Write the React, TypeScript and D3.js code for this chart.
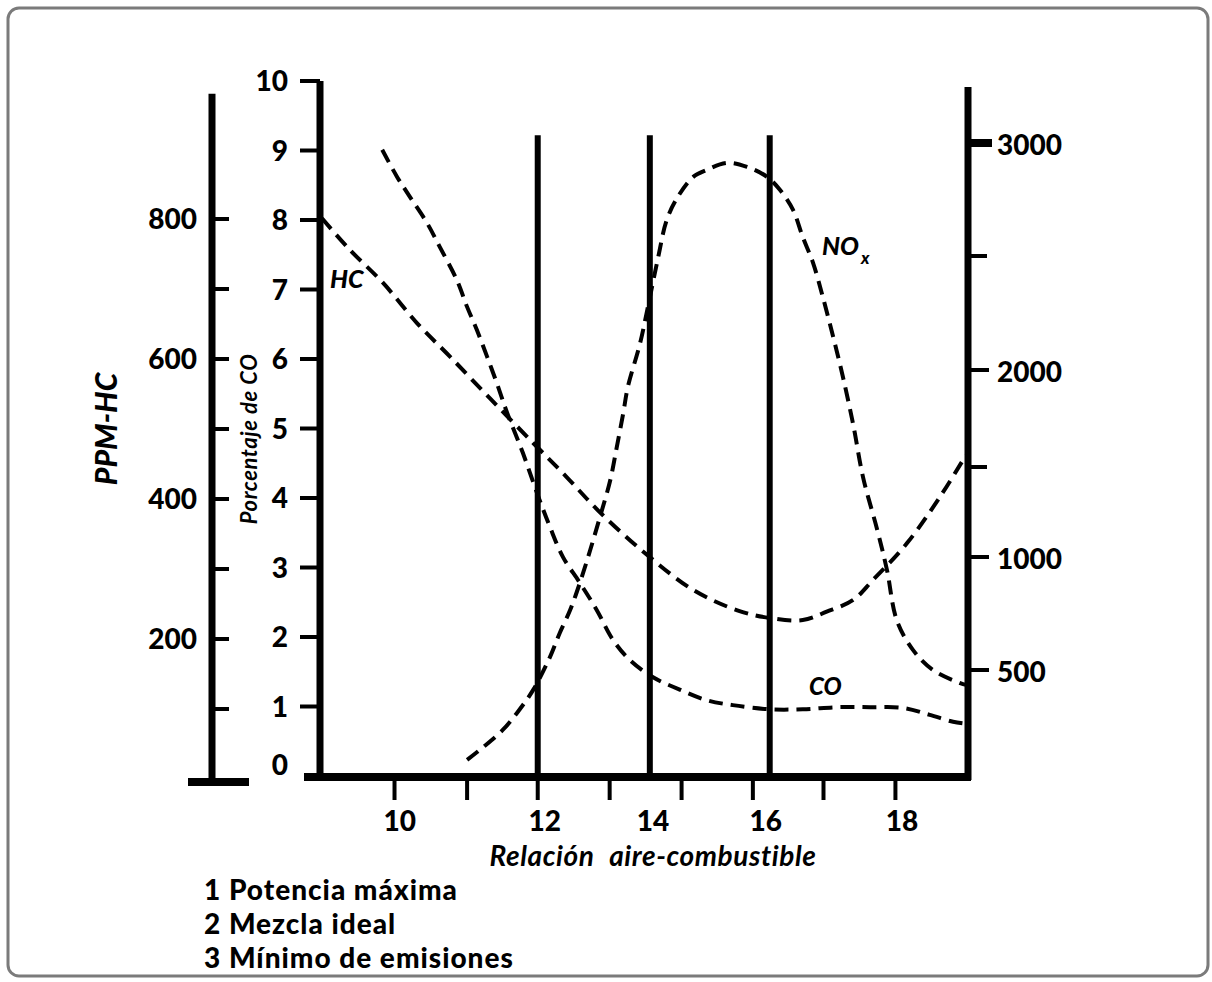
import React from "react";
import * as d3 from "d3";

// ---- data ----
const CO_TICKS = [0, 1, 2, 3, 4, 5, 6, 7, 8, 9, 10];
const HC_MAJOR = [200, 400, 600, 800];
const HC_MINOR = [100, 300, 500, 700];
const NOX_MAJOR = [500, 1000, 2000, 3000];
const NOX_MINOR = [1500, 2500];
const AFR_TICKS = [10.15, 11.27, 12.36, 13.47, 14.58, 15.68, 16.77, 17.88];
const AFR_LABELS = ["10", "12", "14", "16", "18"];
const AFR_LABEL_POS = [10.23, 12.47, 14.14, 15.88, 17.98];
const MARKERS = [12.36, 14.09, 15.94];
const MARKER_TOP = 9.22;
const LEGEND = ["1 Potencia máxima", "2 Mezcla ideal", "3 Mínimo de emisiones"];

// HC (ppm) vs air-fuel ratio
const HC_AFR = [9.03, 9.46, 9.97, 10.5, 11.01, 11.62, 12.29, 12.81, 13.32, 14.05, 14.76, 15.44, 15.94, 16.45, 16.82, 17.23, 17.53, 18.06, 18.61, 18.97];
const HC_PPM = [801, 756, 709, 651, 603, 544, 480, 431, 381, 320, 270, 241, 230, 227, 239, 256, 284, 337, 409, 463];

// CO (%) vs air-fuel ratio
const CO_AFR = [9.96, 10.19, 10.39, 10.65, 10.85, 11.11, 11.27, 11.42, 11.58, 11.73, 11.89, 12.13, 12.35, 12.55, 12.75, 13.01, 13.27, 13.52, 13.78, 14.14, 14.56, 14.97, 15.37, 15.94, 16.45, 16.98, 17.49, 18.0, 18.41, 18.77, 18.98];
const CO_PCT = [9.01, 8.62, 8.33, 7.96, 7.61, 7.14, 6.75, 6.42, 6.03, 5.65, 5.22, 4.65, 4.07, 3.58, 3.15, 2.78, 2.39, 1.96, 1.67, 1.42, 1.24, 1.09, 1.02, 0.96, 0.96, 0.99, 0.99, 0.98, 0.88, 0.78, 0.75];

// NOx (ppm) vs air-fuel ratio
const NOX_AFR = [11.27, 11.52, 11.82, 12.04, 12.29, 12.55, 12.7, 12.86, 13.01, 13.17, 13.32, 13.48, 13.58, 13.68, 13.75, 13.94, 14.05, 14.22, 14.35, 14.52, 14.76, 14.97, 15.28, 15.59, 15.9, 16.1, 16.3, 16.45, 16.61, 16.76, 16.92, 17.07, 17.23, 17.38, 17.6, 17.75, 17.9, 18.15, 18.46, 18.88, 18.97];
const NOX_PPM = [102, 159, 235, 310, 412, 558, 664, 765, 885, 1039, 1222, 1428, 1603, 1778, 1912, 2118, 2263, 2496, 2659, 2761, 2850, 2881, 2912, 2894, 2850, 2792, 2704, 2584, 2469, 2320, 2145, 1964, 1716, 1444, 1150, 942, 721, 589, 500, 442, 434];

const FONT = "Lato, 'Open Sans', 'DejaVu Sans', sans-serif";
const HEAVY = 900;

export default function App() {
  const W = 1212, H = 982;
  const x = d3.scaleLinear().domain([9, 19]).range([320, 968]);
  const yCO = d3.scaleLinear().domain([0, 10]).range([776, 81]);
  const yHC = d3.scaleLinear().domain([0, 800]).range([779, 219]);
  const yNOx = d3.scaleLinear().domain([500, 1000, 1500, 2000, 2500, 3000]).range([670, 557, 467, 370, 256, 143]);

  const curve = d3.curveCatmullRom.alpha(0.5);
  const hcLine = d3.line<number>().x((_, i) => x(HC_AFR[i])).y((d) => yHC(d)).curve(curve);
  const coLine = d3.line<number>().x((_, i) => x(CO_AFR[i])).y((d) => yCO(d)).curve(curve);
  const noxLine = d3.line<number>().x((_, i) => x(NOX_AFR[i])).y((d) => yNOx(d)).curve(curve);

  const xL = x(9);
  const xR = x(19);
  const base = yCO(0);
  const hcAxisX = 212;
  const dash = "14 8";

  return (
    <svg width={W} height={H} style={{ position: "absolute", left: 0, top: 0, background: "#fff" }} fontFamily={FONT}>
      <rect x={8} y={8} width={1200} height={968} rx={11} fill="#fff" stroke="#7b7b7b" strokeWidth={3} />

      {/* PPM-HC axis */}
      <line x1={hcAxisX} x2={hcAxisX} y1={yHC(979)} y2={yHC(0) + 7} stroke="#000" strokeWidth={7} />
      <line x1={188} x2={249} y1={yHC(0) + 3} y2={yHC(0) + 3} stroke="#000" strokeWidth={8} />
      {HC_MAJOR.concat(HC_MINOR).map((v) => (
        <line key={"hct" + v} x1={hcAxisX} x2={hcAxisX + 17} y1={yHC(v)} y2={yHC(v)} stroke="#000" strokeWidth={4} />
      ))}
      {HC_MAJOR.map((v) => (
        <text key={"hcl" + v} x={197} y={yHC(v)} dy="0.36em" textAnchor="end" fontSize={28} fontWeight={HEAVY}>{v}</text>
      ))}
      <text transform={`translate(117,429) rotate(-90)`} textAnchor="middle" fontSize={30} fontWeight={HEAVY} fontStyle="italic">PPM-HC</text>
      <text transform={`translate(257,439) rotate(-90)`} textAnchor="middle" fontSize={22} fontWeight={700} fontStyle="italic" letterSpacing={0.6}>Porcentaje de CO</text>

      {/* CO axis */}
      <line x1={xL} x2={xL} y1={yCO(10)} y2={base + 4} stroke="#000" strokeWidth={7} />
      {CO_TICKS.filter((v) => v > 0).map((v) => (
        <line key={"cot" + v} x1={xL - 20} x2={xL} y1={yCO(v)} y2={yCO(v)} stroke="#000" strokeWidth={4} />
      ))}
      {CO_TICKS.map((v) => (
        <text key={"col" + v} x={288} y={v === 0 ? yCO(v) - 11 : yCO(v)} dy="0.36em" textAnchor="end" fontSize={28} fontWeight={HEAVY}>{v}</text>
      ))}

      {/* NOx axis (right) */}
      <line x1={xR} x2={xR} y1={87} y2={base + 4} stroke="#000" strokeWidth={7} />
      {NOX_MAJOR.map((v) => (
        <line key={"nxt" + v} x1={xR} x2={v === 3000 ? xR + 24 : xR + 21} y1={yNOx(v)} y2={yNOx(v)} stroke="#000" strokeWidth={v === 3000 ? 8 : 4} />
      ))}
      {NOX_MINOR.map((v) => (
        <line key={"nxm" + v} x1={xR} x2={xR + 19} y1={yNOx(v)} y2={yNOx(v)} stroke="#000" strokeWidth={4} />
      ))}
      {NOX_MAJOR.map((v) => (
        <text key={"nxl" + v} x={997} y={yNOx(v) + 2} dy="0.36em" textAnchor="start" fontSize={28} fontWeight={HEAVY}>{v}</text>
      ))}

      {/* x axis */}
      <line x1={304} x2={xR + 3} y1={base + 1} y2={base + 1} stroke="#000" strokeWidth={8} />
      {AFR_TICKS.map((v) => (
        <line key={"xt" + v} x1={x(v)} x2={x(v)} y1={base + 4} y2={base + 24} stroke="#000" strokeWidth={4} />
      ))}
      {AFR_LABELS.map((t, i) => (
        <text key={"xl" + t} x={x(AFR_LABEL_POS[i])} y={831} textAnchor="middle" fontSize={28} fontWeight={HEAVY}>{t}</text>
      ))}
      <text x={653} y={866} textAnchor="middle" fontSize={28} fontWeight={700} fontStyle="italic" letterSpacing={0.6} wordSpacing={8}>Relación aire-combustible</text>

      {/* marker lines */}
      {MARKERS.map((v) => (
        <line key={"mk" + v} x1={x(v)} x2={x(v)} y1={yCO(MARKER_TOP)} y2={base} stroke="#000" strokeWidth={6} />
      ))}

      {/* curves */}
      <path d={hcLine(HC_PPM) || ""} fill="none" stroke="#000" strokeWidth={4} strokeDasharray={dash} />
      <path d={coLine(CO_PCT) || ""} fill="none" stroke="#000" strokeWidth={4} strokeDasharray={dash} />
      <path d={noxLine(NOX_PPM) || ""} fill="none" stroke="#000" strokeWidth={4} strokeDasharray={dash} />

      {/* curve labels */}
      <text x={330} y={288} fontSize={25} fontWeight={HEAVY} fontStyle="italic">HC</text>
      <text x={822} y={255} fontSize={25} fontWeight={HEAVY} fontStyle="italic">NO</text>
      <text x={861} y={264} fontSize={17} fontWeight={HEAVY} fontStyle="italic">x</text>
      <text x={809} y={695} fontSize={24} fontWeight={HEAVY} fontStyle="italic">CO</text>

      {/* legend */}
      {LEGEND.map((t, i) => (
        <text key={t} x={204} y={900 + i * 34} fontSize={28} fontWeight={HEAVY} letterSpacing={1}>{t}</text>
      ))}
    </svg>
  );
}
